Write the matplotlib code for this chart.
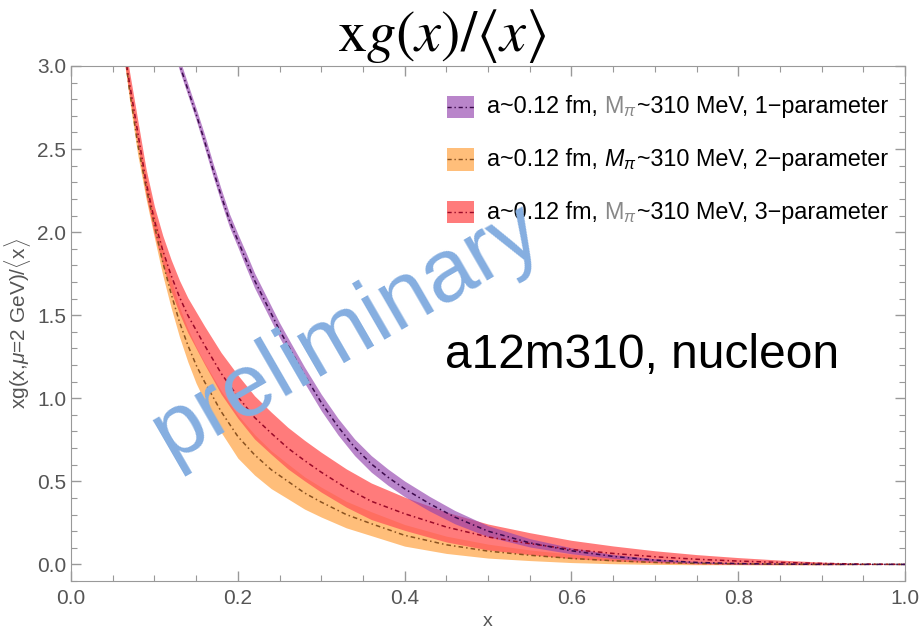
import matplotlib
matplotlib.use("Agg")
import matplotlib.pyplot as plt
import numpy as np
from matplotlib.offsetbox import TextArea, DrawingArea, HPacker, VPacker, AnchoredOffsetbox
from matplotlib.patches import Rectangle
from matplotlib.lines import Line2D
from matplotlib.ticker import MultipleLocator

plt.rcParams['font.family'] = ['Liberation Sans', 'DejaVu Sans']
plt.rcParams['mathtext.fontset'] = 'custom'
plt.rcParams['mathtext.rm'] = 'Liberation Sans'
plt.rcParams['mathtext.it'] = 'Liberation Sans:italic'

# 2- and 3-parameter fits share one x grid
x_fit = [0.06, 0.07, 0.08, 0.09, 0.10, 0.11, 0.12, 0.13, 0.14, 0.15, 0.16, 0.18, 0.20,
         0.22, 0.24, 0.26, 0.28, 0.30, 0.33, 0.36, 0.40, 0.45, 0.50, 0.55, 0.60, 0.65,
         0.70, 0.75, 0.80, 0.85, 0.90, 0.95, 1.00]
red_mid = [3.22, 2.90, 2.60, 2.30, 2.07, 1.89, 1.74, 1.61, 1.50, 1.41, 1.32, 1.15, 1.01,
           0.885, 0.79, 0.70, 0.625, 0.555, 0.46, 0.38, 0.305, 0.225, 0.165, 0.125, 0.09,
           0.066, 0.046, 0.031, 0.020, 0.012, 0.006, 0.002, 0.0]
red_err = [0.07, 0.07, 0.075, 0.08, 0.085, 0.09, 0.095, 0.10, 0.105, 0.11, 0.115, 0.125,
           0.13, 0.13, 0.127, 0.125, 0.122, 0.12, 0.115, 0.11, 0.10, 0.09, 0.078, 0.066,
           0.055, 0.045, 0.036, 0.028, 0.021, 0.014, 0.008, 0.003, 0.0]
orange_mid = [3.25, 2.86, 2.53, 2.27, 2.04, 1.82, 1.63, 1.46, 1.32, 1.20, 1.10, 0.92, 0.77,
              0.66, 0.57, 0.50, 0.43, 0.375, 0.30, 0.245, 0.175, 0.118, 0.080, 0.055, 0.036,
              0.022, 0.012, 0.006, 0.003, 0.001, 0.0, 0.0, 0.0]
orange_err = [0.06, 0.06, 0.065, 0.07, 0.075, 0.08, 0.085, 0.09, 0.10, 0.11, 0.115, 0.125,
              0.13, 0.122, 0.114, 0.105, 0.097, 0.09, 0.08, 0.072, 0.065, 0.052, 0.042,
              0.032, 0.025, 0.018, 0.012, 0.008, 0.005, 0.003, 0.001, 0.0, 0.0]

# 1-parameter fit
x_p1 = [0.12, 0.13, 0.14, 0.15, 0.16, 0.17, 0.18, 0.19, 0.20, 0.21, 0.22, 0.23, 0.24, 0.25,
        0.26, 0.28, 0.30, 0.32, 0.34, 0.36, 0.38, 0.40, 0.43, 0.46, 0.50, 0.55, 0.60, 0.65,
        0.70, 0.75, 0.80, 0.85, 0.90, 0.95, 1.00]
purple_mid = [3.17, 3.01, 2.86, 2.71, 2.55, 2.38, 2.22, 2.07, 1.95, 1.83, 1.71, 1.61, 1.51,
              1.41, 1.32, 1.14, 0.975, 0.83, 0.705, 0.605, 0.525, 0.455, 0.365, 0.285, 0.20,
              0.13, 0.082, 0.048, 0.026, 0.012, 0.005, 0.002, 0.0, 0.0, 0.0]
purple_err = [0.035, 0.035, 0.035, 0.035, 0.04, 0.04, 0.04, 0.04, 0.04, 0.045, 0.045, 0.045,
              0.045, 0.045, 0.045, 0.048, 0.05, 0.05, 0.05, 0.05, 0.049, 0.047, 0.044, 0.04,
              0.033, 0.025, 0.018, 0.012, 0.008, 0.005, 0.003, 0.001, 0.0, 0.0, 0.0]

labels_param = ["1\u2212parameter", "2\u2212parameter", "3\u2212parameter"]

fill_purple = '#9444ae'
fill_orange = '#ffa94e'
fill_red = '#ff5a5a'
line_purple = '#3c0a4c'
line_orange = '#8a5220'
line_red = '#9a0a28'
dashdot = (0, (3, 2, 1, 2))

fig = plt.figure(figsize=(9.2, 6.37), dpi=100)
ax = fig.add_axes([0.0772, 0.0879, 0.9065, 0.8085])

def band(x, mid, err, fc, alpha, lc):
    x = np.array(x)
    mid = np.array(mid)
    err = np.array(err)
    ax.fill_between(x, mid - err, mid + err, color=fc, alpha=alpha, lw=0)
    ax.plot(x, mid, color=lc, lw=1.1, ls=dashdot)

band(x_fit, orange_mid, orange_err, fill_orange, 0.75, line_orange)
band(x_fit, red_mid, red_err, fill_red, 0.8, line_red)
band(x_p1, purple_mid, purple_err, fill_purple, 0.65, line_purple)

ax.set_xlim(0, 1)
ax.set_ylim(-0.1, 3.0)
ax.xaxis.set_major_locator(MultipleLocator(0.2))
ax.xaxis.set_minor_locator(MultipleLocator(0.05))
ax.yaxis.set_major_locator(MultipleLocator(0.5))
ax.yaxis.set_minor_locator(MultipleLocator(0.1))
ax.xaxis.set_major_formatter(lambda v, p: f"{v:.1f}")
ax.yaxis.set_major_formatter(lambda v, p: f"{v:.1f}")
ax.tick_params(which='both', direction='in', top=True, right=True, color='#999999',
               labelcolor='#555555', labelsize=15)
ax.tick_params(axis='x', which='major', pad=6)
ax.tick_params(which='major', length=7, width=1)
ax.tick_params(which='minor', length=4, width=0.8)
for s in ax.spines.values():
    s.set_color('#999999')

ax.set_xlabel('x', fontsize=14, color='#555555', labelpad=3)
ax.set_ylabel(r'xg(x,$\mu$=2 GeV)/$\langle$x$\rangle$', fontsize=15, color='#555555',
              labelpad=3)

fig.text(0.48, 0.943, r'$\mathrm{x}g(x)/\langle x\rangle$', fontsize=42, ha='center',
         va='center', math_fontfamily='stix')

ax.text(0.448, 1.26, 'a12m310, nucleon', fontsize=34.5, color='black', ha='left',
        va='center')
ax.text(0.330, 1.40, 'preliminary', fontsize=64, color='#85aee0', rotation=30,
        ha='center', va='center', rotation_mode='anchor', zorder=10)

# legend with mixed-colour labels
rows = []
legend_spec = [
    (fill_purple, 0.65, line_purple, r'M$_\pi$', '#888888'),
    (fill_orange, 0.75, line_orange, r'$M_\pi$', 'black'),
    (fill_red, 0.8, line_red, r'M$_\pi$', '#888888'),
]
for (fc, al, lc, mtxt, mcol), plab in zip(legend_spec, labels_param):
    da = DrawingArea(29, 16, 0, 0)
    da.add_artist(Rectangle((0, 0), 19.5, 16, fc=fc, alpha=al, lw=0))
    da.add_artist(Line2D([0, 19.5], [8, 8], color=lc, lw=1.0, ls=dashdot))
    tp = dict(fontsize=16.8, color='black')
    t1 = TextArea('a~0.12 fm, ', textprops=tp)
    t2 = TextArea(mtxt, textprops=dict(fontsize=16.8, color=mcol))
    t3 = TextArea('~310 MeV, ' + plab, textprops=tp)
    txt = HPacker(children=[t1, t2, t3], align='baseline', pad=0, sep=0)
    rows.append(HPacker(children=[da, txt], align='center', pad=0, sep=0))
vbox = VPacker(children=rows, align='left', pad=0, sep=20)
anch = AnchoredOffsetbox(loc='upper right', child=vbox, pad=0, borderpad=0, frameon=False,
                         bbox_to_anchor=(0.98, 0.945), bbox_transform=ax.transAxes)
ax.add_artist(anch)

fig.savefig('out.png', dpi=100)
